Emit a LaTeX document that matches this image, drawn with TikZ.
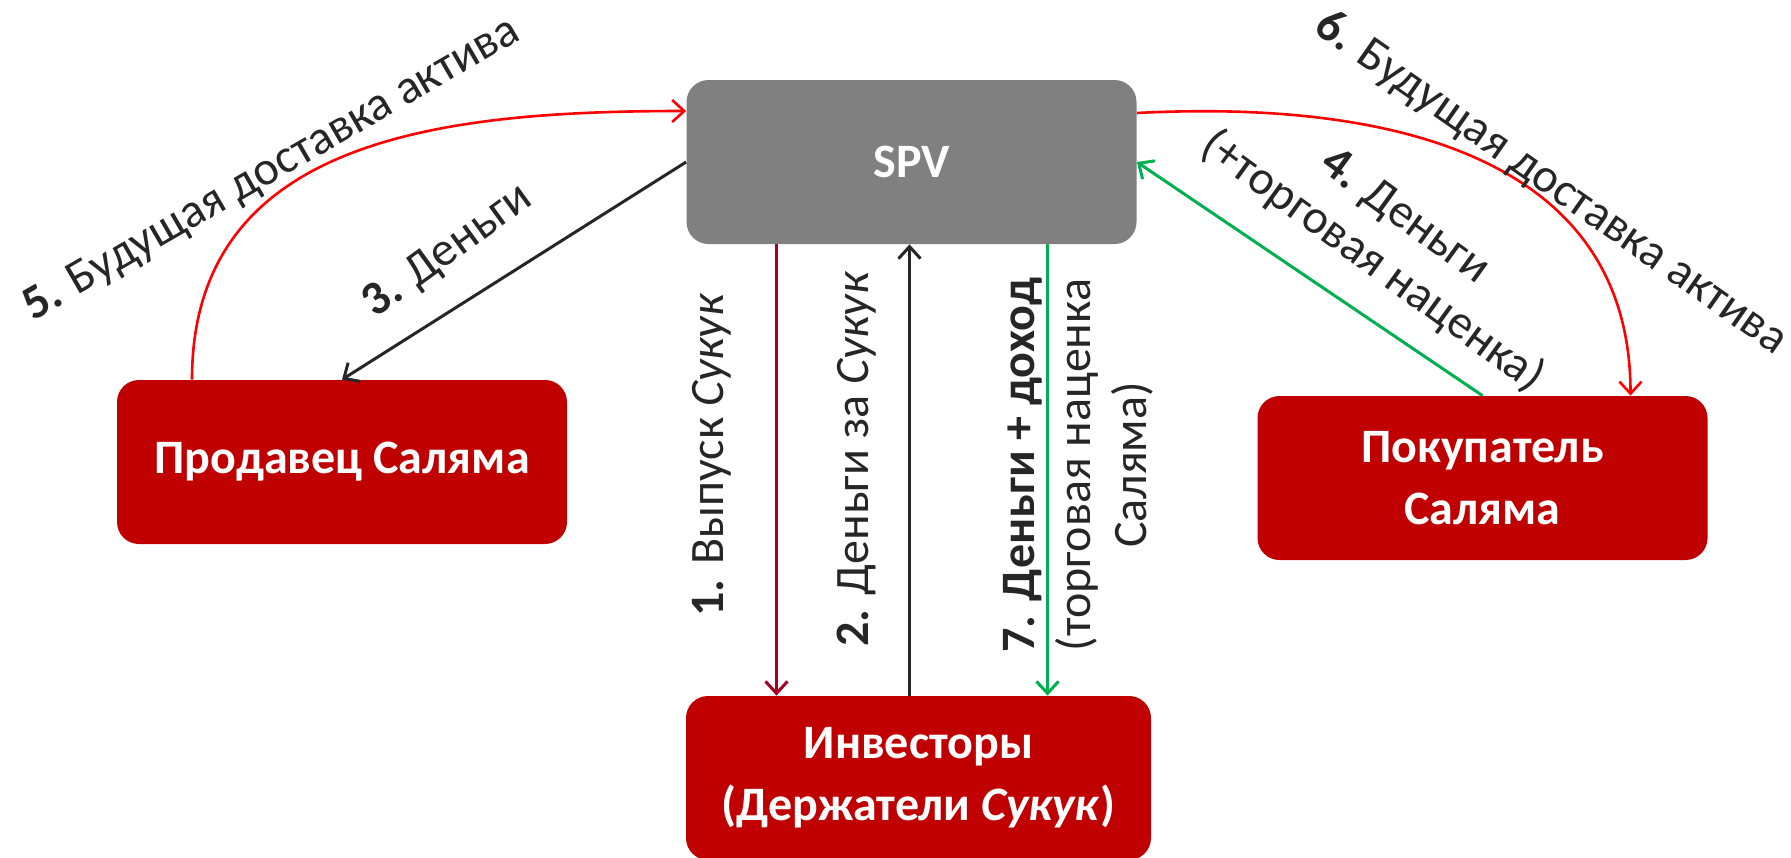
\documentclass[tikz,border=0pt]{standalone}
\usepackage{fontspec}
\setmainfont{Carlito}
\usetikzlibrary{arrows.meta}
\definecolor{boxred}{HTML}{C00000}
\definecolor{spvgrey}{HTML}{808080}
\definecolor{sukukred}{HTML}{A50021}
\definecolor{moneygreen}{HTML}{00B050}
\definecolor{ink}{HTML}{262626}
\definecolor{assetred}{HTML}{FF0000}
\begin{document}
\begin{tikzpicture}[x=0.5pt,y=0.5pt,
    party/.style={fill=boxred, text=white, rounded corners=11pt,
      minimum width=225pt, minimum height=82pt, inner sep=0pt, align=center,
      font=\fontsize{24}{31}\selectfont\bfseries},
    flow/.style={line width=1.5pt, -{Straight Barb[length=6pt,width=11pt]}},
    delivery/.style={assetred, line width=1.3pt, -{Straight Barb[length=6pt,width=11pt]}},
    lbl/.style={text=ink, align=center, inner sep=0pt,
      font=\fontsize{24}{28}\selectfont}]
  \useasboundingbox (0,0) rectangle (1791,-857);
  % parties
  \node[party, fill=spvgrey] (spv) at (911.5,-162) {SPV};
  \node[party] (seller) at (342,-462) {Продавец Саляма};
  \node[party] (buyer) at (1482.5,-478) {Покупатель\\Саляма};
  \node[party, minimum width=232.5pt] (inv) at (918.5,-778) {Инвесторы\\(Держатели \textit{Сукук})};
  % attachment points
  \coordinate (s1) at ([xshift=-67.5pt]spv.south);
  \coordinate (s7) at ([xshift=68pt]spv.south);
  \coordinate (s2) at ([xshift=-1pt]spv.south);
  \coordinate (w5) at ([yshift=25.5pt]spv.west);
  \coordinate (e6) at ([yshift=24.5pt]spv.east);
  \coordinate (n5) at ([xshift=-75pt]seller.north);
  \coordinate (n6) at ([xshift=74pt]buyer.north);
  % flows
  \draw[flow, sukukred] (s1) -- (s1 |- inv.north);
  \draw[flow, ink] (s2 |- inv.north) -- (s2);
  \draw[flow, moneygreen] (s7) -- (s7 |- inv.north);
  \draw[flow, ink] (spv.west) -- (seller.north);
  \draw[flow, moneygreen] (buyer.north) -- (spv.east);
  \draw[delivery] (n5) to[out=90, in=180, looseness=1.1] (w5);
  \draw[delivery] (e6) to[out=3, in=90, looseness=1.1] (n6);
  % labels
  \node[lbl, rotate=90] (l1) at (712,-455) {\textbf{1.} Выпуск \textit{Сукук}};
  \node[lbl, rotate=90] (l2) at (857,-459) {\textbf{2.} Деньги за \textit{Сукук}};
  \node[lbl, rotate=90] (l7) at (1078,-465) {\textbf{7. Деньги + доход}\\(торговая наценка\\Саляма)};
  \node[lbl, rotate=36] (l3) at (448,-251) {\textbf{3.} Деньги};
  \node[lbl, rotate=30] (l5) at (272,-170) {\textbf{5.} Будущая доставка актива};
  \node[lbl, rotate=-35] (l6) at (1551,-183) {\textbf{6.} Будущая доставка актива};
  \node[lbl, rotate=-36] (l4) at (1388,-240) {\textbf{4.} Деньги\\(+торговая наценка)};
\end{tikzpicture}
\end{document}
